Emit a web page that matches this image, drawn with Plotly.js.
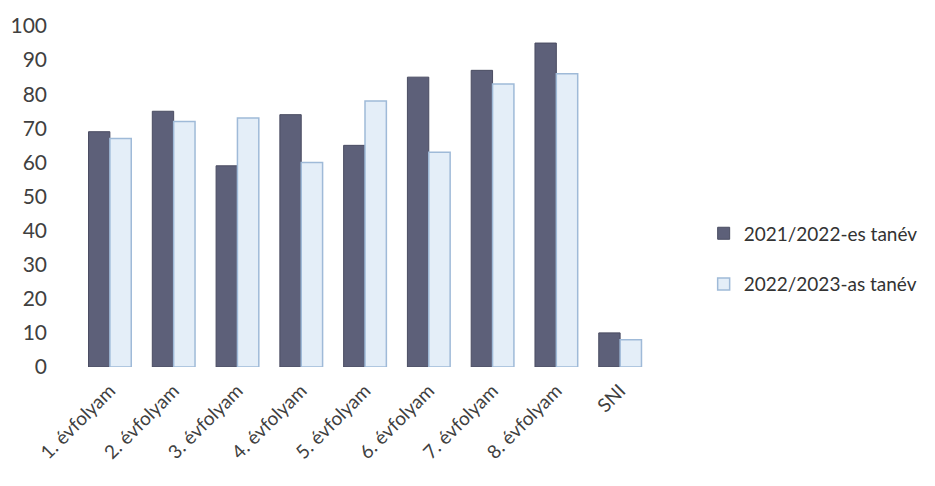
<!DOCTYPE html>
<html>
<head>
<meta charset="utf-8">
<script src="https://cdn.plot.ly/plotly-3.0.1.min.js"></script>
<style>html,body{margin:0;padding:0;background:#fff}#chart{width:935px;height:486px}</style>
</head>
<body>
<div id="chart"></div>
<script>
const categories = ["1. évfolyam","2. évfolyam","3. évfolyam","4. évfolyam","5. évfolyam","6. évfolyam","7. évfolyam","8. évfolyam","SNI"];
const series2122 = [69, 75, 59, 74, 65, 85, 87, 95, 10];
const series2223 = [67, 72, 73, 60, 78, 63, 83, 86, 8];
const seriesNames = ["2021/2022-es tanév", "2022/2023-as tanév"];
const yTicks = [0,10,20,30,40,50,60,70,80,90,100];

const traces = [
  {type:"bar", x:categories, y:series2122, name:seriesNames[0], legendgroup:"a",
   marker:{color:"#5d6079", line:{color:"#4a4c62", width:1}}},
  {type:"bar", x:categories, y:series2223, name:seriesNames[1], legendgroup:"b",
   marker:{color:"#e4eef8", line:{color:"#9fbad8", width:1.5}}}
];
const layout = {
  width:935, height:486,
  margin:{l:78, r:283, t:26, b:119, autoexpand:false},
  paper_bgcolor:"#fff", plot_bgcolor:"#fff",
  font:{family:"Lato, 'Open Sans', sans-serif", color:"#404040"},
  barmode:"group", bargap:0.33, bargroupgap:0,
  showlegend:true,
  legend:{x:1.09, xanchor:"left", y:0.317, yanchor:"middle", tracegroupgap:23,
          font:{size:19, color:"#333"}, itemwidth:30},
  xaxis:{type:"category", tickangle:-45, tickfont:{size:19, color:"#404040"},
         showline:false, showgrid:false, ticks:"", zeroline:false, ticklabelstandoff:8},
  yaxis:{range:[0,100], tickvals:yTicks, ticktext:yTicks.map(String),
         tickfont:{size:21, color:"#404040"}, showgrid:false, zeroline:false,
         showline:false, ticks:"", ticklabelstandoff:30}
};
Plotly.newPlot("chart", traces, layout, {displayModeBar:false, staticPlot:true});
</script>
</body>
</html>
